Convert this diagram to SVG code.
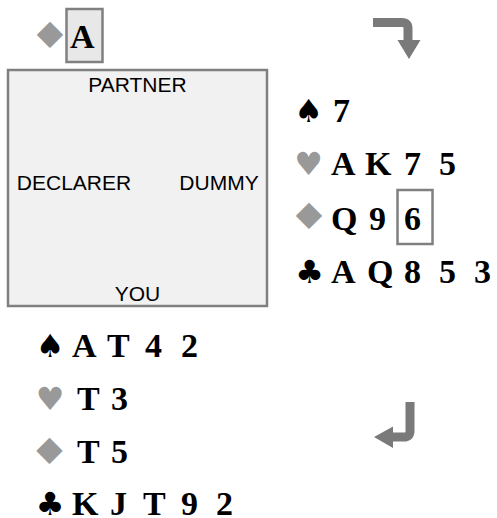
<svg xmlns="http://www.w3.org/2000/svg" width="497" height="518" viewBox="0 0 497 518">
<style>
.lbl{font-family:"Liberation Sans",Arial,sans-serif;font-size:21px;fill:#000;text-anchor:middle}
.card{font-family:"Liberation Serif","Times New Roman",serif;font-weight:bold;font-size:34px;fill:#000}
.suit{font-family:"DejaVu Sans",sans-serif;font-size:32px;text-anchor:middle}
.dia{font-family:"DejaVu Sans",sans-serif;font-size:36px;text-anchor:middle;fill:#999}
.blk{fill:#000}
.red{fill:#999}
.cbox{fill:#e8e8e8;stroke:#808080;stroke-width:2.5}
.obox{fill:none;stroke:#808080;stroke-width:2.5}
.arr{fill:none;stroke:#7a7a7a;stroke-width:9}
.head{fill:#7a7a7a}
</style>
<rect width="497" height="518" fill="#fff"/>
<g id="lead">
<text class="dia" transform="translate(50,47.5) scale(1.3,1)">♦</text>
<rect class="cbox" x="66.5" y="9" width="36" height="53"/>
<text class="card" x="70" y="48">A</text>
</g>
<g id="table">
<rect x="8" y="70" width="259" height="236" fill="#f1f1f1" stroke="#808080" stroke-width="2.5"/>
<text class="lbl" x="137.5" y="92">PARTNER</text>
<text class="lbl" x="74" y="190">DECLARER</text>
<text class="lbl" x="219" y="190">DUMMY</text>
<text class="lbl" x="137.5" y="301">YOU</text>
</g>
<g id="dummy">
<text class="suit blk" x="308.5" y="122">♠</text>
<text class="card" x="333" y="122">7</text>
<text class="suit red" x="308.5" y="175">♥</text>
<text class="card" x="331 355 365 392 404 425 439" y="175">A K 7 5</text>
<text class="dia" transform="translate(309,228.5) scale(1.3,1)">♦</text>
<text class="card" x="331 357 369 390" y="230">Q 9 </text>
<rect class="obox" x="397.5" y="190" width="35" height="54"/>
<text class="card" x="404" y="230">6</text>
<text class="suit blk" x="309.5" y="283">♣</text>
<text class="card" x="331 355 367 393 404 425 439 460 474" y="283">A Q 8 5 3</text>
</g>
<g id="you">
<text class="suit blk" x="50" y="357">♠</text>
<text class="card" x="72 96 107 130 145 165 181" y="357">A T 4 2</text>
<text class="suit red" x="50" y="410">♥</text>
<text class="card" x="77 100 111" y="410">T 3</text>
<text class="dia" transform="translate(49.5,463.5) scale(1.3,1)">♦</text>
<text class="card" x="77 100 111" y="463">T 5</text>
<text class="suit blk" x="50" y="515">♣</text>
<text class="card" x="72 100 110 128 143 167 181 200 216" y="515">K J T 9 2</text>
</g>
<g id="arrows">
<path class="arr" d="M373,22.5 H402 Q408,22.5 408,28.5 V42"/>
<polygon class="head" points="397.5,40 420.5,40 409,59"/>
<path class="arr" d="M410,402 V431 Q410,437 404,437 H391"/>
<polygon class="head" points="393,426.5 393,448 374,437"/>
</g>
</svg>
